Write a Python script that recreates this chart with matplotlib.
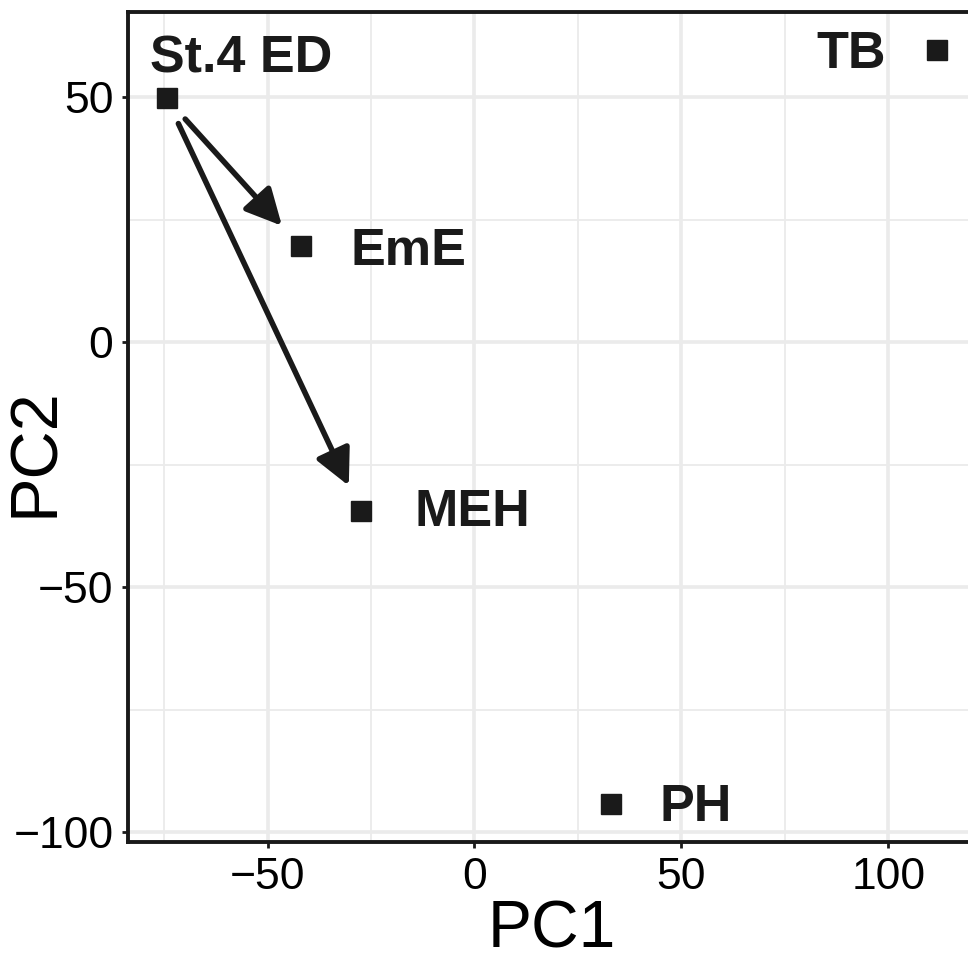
import matplotlib
matplotlib.use("Agg")
import matplotlib.pyplot as plt
from matplotlib.ticker import MultipleLocator

plt.rcParams['font.family'] = ['Liberation Sans', 'DejaVu Sans']

# PCA scores
samples = ['St.4 ED', 'EmE', 'MEH', 'PH', 'TB']
pc1 = [-74.4, -42.0, -27.5, 33.0, 111.9]
pc2 = [49.8, 19.6, -34.4, -94.3, 59.75]

# arrows: from sample -> to sample
arrow_from = ['St.4 ED', 'St.4 ED']
arrow_to = ['EmE', 'MEH']

x_ticks = [-50, 0, 50, 100]
y_ticks = [-100, -50, 0, 50]

# label placement (offset in points, horizontal alignment)
label_style = {
    'St.4 ED': ((-12, 19), 'left'),
    'EmE': ((36, -13.5), 'left'),
    'MEH': ((39, -11), 'left'),
    'PH': ((35, -12), 'left'),
    'TB': ((-37, -13), 'right'),
}

ink = '#1a1a1a'

fig = plt.figure(figsize=(9.68, 9.63), dpi=100)
ax = fig.add_axes([128 / 968, 121 / 963, 848 / 968, 830 / 963])

ax.plot(pc1, pc2, linestyle='none', marker='s', markersize=14,
        color=ink, zorder=4)
ax.margins(x=0.05, y=0.05)

pos = dict(zip(samples, zip(pc1, pc2)))
for a, b in zip(arrow_from, arrow_to):
    ax.annotate('', xy=pos[b], xytext=pos[a],
                arrowprops=dict(arrowstyle='-|>,head_length=1.1,head_width=0.55',
                                lw=4, color=ink, shrinkA=20, shrinkB=20,
                                mutation_scale=20),
                zorder=3)

for name in samples:
    off, ha = label_style[name]
    ax.annotate(name, xy=pos[name], xytext=off, textcoords='offset points',
                ha=ha, va='baseline', fontsize=37.5, fontweight='bold',
                color=ink, zorder=5)

ax.set_xticks(x_ticks)
ax.set_yticks(y_ticks)
ax.xaxis.set_minor_locator(MultipleLocator(25))
ax.yaxis.set_minor_locator(MultipleLocator(25))
ax.grid(which='major', color='#ebebeb', lw=2.6, zorder=0)
ax.grid(which='minor', color='#ebebeb', lw=1.3, zorder=0)
ax.set_axisbelow(True)
ax.tick_params(which='major', length=4.5, width=2, color=ink,
               labelsize=32, pad=6, labelcolor='black')
ax.tick_params(which='minor', length=0)
for s in ax.spines.values():
    s.set_linewidth(2.8)
    s.set_color(ink)

ax.set_xlabel('PC1', fontsize=47.5)
ax.set_ylabel('PC2', fontsize=48)
ax.xaxis.set_label_coords(0.5, -0.069)
ax.yaxis.set_label_coords(-0.072, 0.47)

fig.savefig('out.png', dpi=100)
